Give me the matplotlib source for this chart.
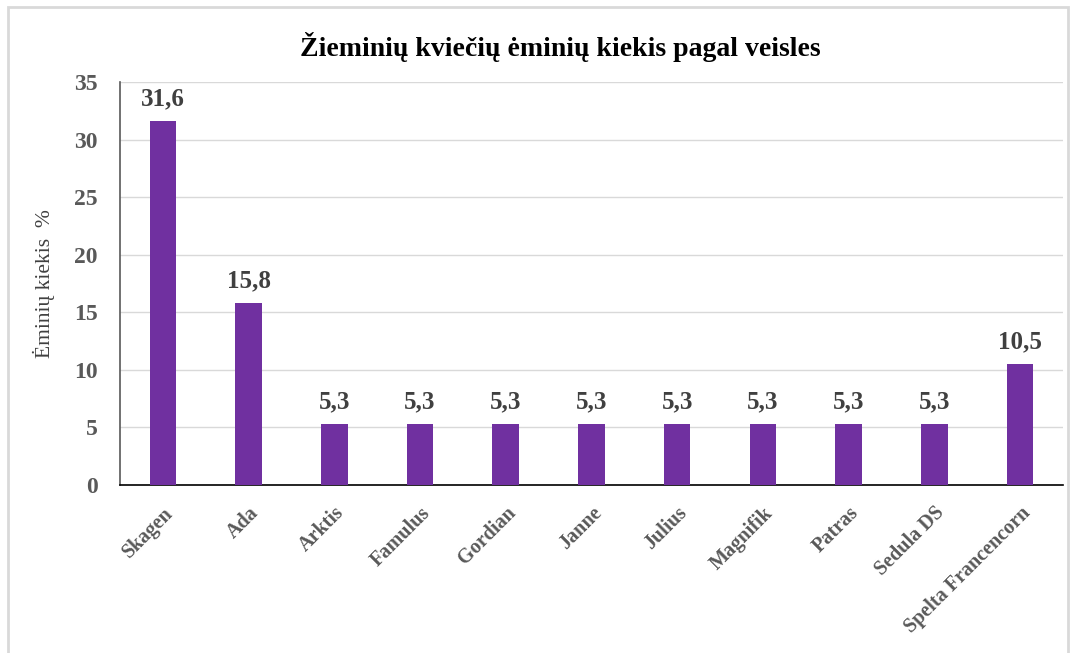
import matplotlib
matplotlib.use("Agg")
import matplotlib.pyplot as plt
from matplotlib.patches import Rectangle

veisles = ["Skagen", "Ada", "Arktis", "Famulus", "Gordian", "Janne", "Julius",
           "Magnifik", "Patras", "Sedula DS", "Spelta Francencorn"]
kiekis = [31.6, 15.8, 5.3, 5.3, 5.3, 5.3, 5.3, 5.3, 5.3, 5.3, 10.5]
y_ticks = [0, 5, 10, 15, 20, 25, 30, 35]

plt.rcParams['font.family'] = ['Liberation Serif', 'DejaVu Serif']

fig = plt.figure(figsize=(10.71, 6.53), dpi=100)
ax = fig.add_axes([0.112, 0.2573, 0.8805, 0.6171])

x = range(len(veisles))
ax.bar(x, kiekis, width=0.31, color="#7030a0", zorder=3)
for i, v in zip(x, kiekis):
    ax.annotate(f"{v:.1f}".replace(".", ","), (i, v), xytext=(0, 8),
                textcoords="offset points", ha="center", va="bottom",
                fontsize=18, fontweight="bold", color="#404040")

ax.set_xlim(-0.5, len(veisles) - 0.5)
ax.set_ylim(0, 35)
ax.set_yticks(y_ticks)
ax.set_yticklabels([str(t) for t in y_ticks], fontsize=17, fontweight="bold", color="#595959")
ax.set_xticks(list(x))
ax.set_xticklabels(veisles, rotation=45, ha="right", rotation_mode="anchor",
                   fontsize=14.5, fontweight="bold", color="#595959")
ax.tick_params(axis="both", length=0)
ax.tick_params(axis="y", pad=16)
ax.tick_params(axis="x", pad=13)

ax.yaxis.grid(True, color="#d9d9d9", linewidth=1, zorder=0)
ax.spines["top"].set_visible(False)
ax.spines["right"].set_visible(False)
ax.spines["left"].set_color("#595959")
ax.spines["bottom"].set_color("#000000")
ax.spines["left"].set_linewidth(1.2)
ax.spines["bottom"].set_linewidth(1.2)

ax.set_ylabel("Ėminių kiekis  %", fontsize=15.5, color="#404040", labelpad=14)
fig.text(0.523, 0.928, "Žieminių kviečių ėminių kiekis pagal veisles",
         ha="center", va="center", fontsize=20, fontweight="bold", color="#000000")

fig.patches.append(Rectangle((8 / 1071, -0.01), 1060 / 1071, 1 - 7 / 653 + 0.01,
                             transform=fig.transFigure, fill=False,
                             edgecolor="#d9d9d9", linewidth=2))

fig.savefig("out.png", dpi=100)
